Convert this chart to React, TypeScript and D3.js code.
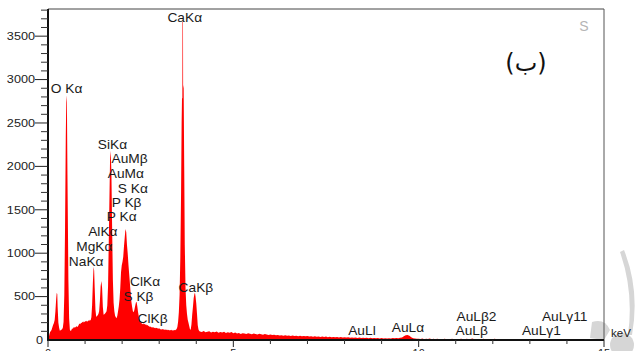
import React from "react";
import * as d3 from "d3";

// ---- data -------------------------------------------------------------
// Low-energy part of the EDS spectrum: [keV, counts]
const lowSpectrum: [number, number][] = [
  [0.0, 0], [0.02, 30], [0.04, 70], [0.06, 95], [0.08, 105], [0.1, 120], [0.12, 150],
  [0.14, 175], [0.16, 195], [0.18, 230], [0.2, 330], [0.22, 470], [0.235, 540], [0.25, 530],
  [0.26, 380], [0.28, 200], [0.3, 140], [0.32, 108], [0.34, 112], [0.36, 118], [0.38, 125],
  [0.4, 140], [0.42, 210], [0.44, 520], [0.46, 1300], [0.48, 2350], [0.495, 2820], [0.51, 2740],
  [0.525, 1900], [0.55, 700], [0.57, 250], [0.59, 118], [0.61, 105], [0.63, 112], [0.65, 135],
  [0.67, 128], [0.69, 148], [0.71, 140], [0.73, 152], [0.75, 145], [0.77, 160], [0.79, 150],
  [0.81, 158], [0.83, 175], [0.85, 190], [0.87, 182], [0.89, 200], [0.91, 195], [0.93, 210],
  [0.95, 202], [0.97, 215], [0.99, 205], [1.01, 220], [1.03, 212], [1.05, 222], [1.07, 210],
  [1.09, 228], [1.11, 218], [1.13, 232], [1.15, 225], [1.17, 262], [1.19, 400], [1.21, 650],
  [1.23, 845], [1.245, 800], [1.26, 600], [1.28, 350], [1.3, 268], [1.32, 275], [1.34, 285],
  [1.36, 300], [1.38, 330], [1.4, 450], [1.42, 620], [1.44, 680], [1.46, 600], [1.48, 380],
  [1.5, 290], [1.52, 298], [1.54, 305], [1.56, 318], [1.58, 330], [1.6, 400], [1.62, 620],
  [1.64, 1150], [1.66, 1700], [1.675, 2100], [1.69, 2180], [1.71, 1950], [1.73, 1300],
  [1.75, 700], [1.77, 430], [1.79, 330], [1.81, 280], [1.83, 262], [1.85, 250], [1.87, 280],
  [1.89, 330], [1.91, 390], [1.93, 470], [1.95, 600], [1.97, 780], [1.99, 860], [2.01, 900],
  [2.03, 960], [2.05, 1080], [2.07, 1180], [2.09, 1280], [2.11, 1245], [2.13, 1100],
  [2.15, 1000], [2.17, 870], [2.19, 760], [2.21, 650], [2.23, 540], [2.25, 440], [2.27, 380],
  [2.29, 330], [2.31, 320], [2.33, 345], [2.35, 390], [2.37, 430], [2.39, 440], [2.41, 385],
  [2.43, 320], [2.45, 270], [2.47, 235], [2.49, 215], [2.51, 198], [2.53, 190], [2.55, 182],
  [2.57, 192], [2.59, 178], [2.61, 186], [2.63, 175], [2.65, 180], [2.67, 168], [2.69, 172],
  [2.71, 160], [2.73, 158], [2.75, 150], [2.77, 156], [2.79, 145], [2.81, 150], [2.83, 140],
  [2.85, 146], [2.87, 138], [2.89, 142], [2.91, 136], [2.93, 140], [2.95, 132], [2.97, 138],
  [2.99, 128], [3.01, 134], [3.03, 122], [3.05, 128], [3.07, 118], [3.09, 126], [3.11, 120],
  [3.13, 124], [3.15, 114], [3.17, 122], [3.19, 116], [3.21, 120], [3.23, 112], [3.25, 118],
  [3.27, 110], [3.29, 116], [3.31, 112], [3.33, 118], [3.35, 108], [3.37, 115], [3.39, 110],
  [3.41, 116], [3.43, 112], [3.45, 118], [3.47, 128], [3.49, 150], [3.51, 210], [3.53, 320],
  [3.55, 520], [3.57, 950], [3.59, 1700], [3.605, 2500], [3.615, 2780], [3.625, 2790],
  [3.628, 3664], [3.642, 3664], [3.645, 2938], [3.66, 2900], [3.675, 2000], [3.69, 1100],
  [3.71, 600], [3.73, 400], [3.75, 300],
  [3.77, 232], [3.79, 200], [3.81, 160], [3.83, 125], [3.85, 118], [3.87, 180], [3.89, 290],
  [3.91, 380], [3.93, 480], [3.95, 530], [3.965, 545], [3.98, 500], [4.0, 420], [4.02, 300],
  [4.04, 170], [4.06, 120], [4.08, 104],
];

// High-energy tail: channels of 0.05 keV starting at 4.10 keV
const tailStartKeV = 4.1;
const tailStepKeV = 0.05;
const tailCounts: number[] = [
  98, 92, 105, 88, 96, 101, 85, 94, 90, 99, 83, 91, 87, 95, 80, 89, 84, 92,
  78, 86, 74, 82, 70, 79, 75, 68, 77, 72, 66, 74, 69, 63, 71, 65, 60, 68, 62, 58,
  64, 57, 61, 54, 59, 52, 56, 50, 55, 48, 53, 47, 51, 45, 50, 44, 49, 43, 47, 42,
  46, 40, 44, 38, 43, 37, 41, 36, 40, 35, 39, 33, 37, 32, 36, 31, 35, 30, 34, 29,
  33, 28, 31, 27, 30, 25, 29, 24, 28, 23, 27, 22, 26, 21, 25, 20, 24, 19, 23, 18,
  22, 17, 21, 16, 20, 18, 22, 19, 24, 21, 26, 30, 42, 55, 58, 48, 32, 20, 16, 14,
  15, 12, 18, 10, 14, 11, 16, 9, 13, 10, 15, 8, 12, 10, 14, 9, 11, 8, 13, 10,
  12, 9, 11, 14, 10, 8, 13, 9, 11, 16, 10, 12, 9, 11, 8, 14, 10, 9, 12, 8,
  10, 13, 8, 11, 9, 12, 7, 10, 6, 3, 2, 0, 1, 0, 2, 0, 0, 1, 0, 0,
  0, 0, 6, 0, 0, 1, 0, 0, 0, 0, 0, 0, 0, 0, 0, 0, 0, 0, 0, 0,
  0, 0, 0, 0, 0, 0, 0, 0, 0, 0, 0, 0, 0, 0, 0, 0, 0, 0, 0, 0, 0,
];

// Peak labels: text, energy (keV) and count level of the label baseline
const labelTexts = [
  "CaKα", "O Kα", "SiKα", "AuMβ", "AuMα", "S Kα", "P Kβ", "P Kα", "AlKα", "MgKα", "NaKα",
  "ClKα", "S Kβ", "ClKβ", "CaKβ", "AuLl", "AuLα", "AuLβ2", "AuLβ", "AuLγ1", "AuLγ11",
];
const labelKeV = [
  3.69, 0.5, 1.74, 2.2, 2.1, 2.29, 2.12, 1.99, 1.48, 1.25, 1.03,
  2.62, 2.44, 2.82, 3.99, 8.47, 9.71, 11.56, 11.43, 13.31, 13.94,
];
const labelCounts = [
  3663, 2845, 2200, 2039, 1866, 1693, 1532, 1371, 1198, 1025, 852,
  622, 449, 196, 553, 58, 92, 219, 58, 58, 219,
];

const yMajorTicks = [0, 500, 1000, 1500, 2000, 2500, 3000, 3500];
const xMajorTicks = [0, 5, 10, 15];
const panelLabel = "(ب)";

// ---- layout -----------------------------------------------------------
const W = 635;
const H = 351;
const left = 48;
const right = 604;
const top = 9;
const bottom = 340;
const yMax = 3813;
const font = "'Liberation Sans', Arial, sans-serif";

export default function App() {
  const x = d3.scaleLinear().domain([0, 15]).range([left, right]);
  const y = d3.scaleLinear().domain([0, yMax]).range([bottom, top]);

  const tail: [number, number][] = tailCounts.map((c, i) => [tailStartKeV + i * tailStepKeV, c]);
  const spectrum = [...lowSpectrum, ...tail];

  const area = d3
    .area<[number, number]>()
    .x((d) => x(d[0]))
    .y0(y(0))
    .y1((d) => y(d[1]))
    .curve(d3.curveLinear);

  const yMinor = d3.range(100, 3801, 100).filter((v) => v % 500 !== 0);
  const xMinor = d3.range(1, 15, 1).filter((v) => v % 5 !== 0);

  return (
    <svg
      width={W}
      height={H}
      style={{ position: "absolute", left: 0, top: 0, background: "#fff" }}
      fontFamily={font}
    >
      {/* faint watermark fragments */}
      <g fill="#d6d6d6">
        <circle cx={622} cy={345} r={12} />
        <path d={`M592,322 Q605,318 610,330 L604,340 L590,338 Z`} />
        <path d={`M624,250 Q640,290 632,335 L628,335 Q634,292 620,252 Z`} />
        <text x={584} y={31} fontSize={14} fill="#b5b5b5" textAnchor="middle">
          S
        </text>
      </g>

      {/* spectrum */}
      <path d={area(spectrum) ?? ""} fill="#ff0000" />

      {/* frame */}
      <line x1={left} x2={right} y1={top} y2={top} stroke="#444" strokeWidth={1} />
      <line x1={right} x2={right} y1={top} y2={bottom} stroke="#555" strokeWidth={1} />
      <line x1={left} x2={left} y1={top} y2={bottom + 1} stroke="#111" strokeWidth={2} />
      <line x1={left - 1} x2={right} y1={bottom} y2={bottom} stroke="#111" strokeWidth={2} />

      {/* y ticks */}
      {yMajorTicks.map((v) => {
        const tx = v === 0 ? left - 5 : left - 13;
        return (
          <g key={"ym" + v}>
            {v > 0 && (
              <line x1={left - 13} x2={left} y1={y(v)} y2={y(v)} stroke="#222" strokeWidth={1} />
            )}
            <text
              x={0}
              y={0}
              dy="0.35em"
              textAnchor="end"
              fontSize={11}
              fill="#222"
              transform={`translate(${tx},${y(v)}) scale(1.15,1)`}
            >
              {v}
            </text>
          </g>
        );
      })}
      {yMinor.map((v) => (
        <line key={"yn" + v} x1={left - 7} x2={left} y1={y(v)} y2={y(v)} stroke="#333" strokeWidth={1} />
      ))}

      {/* x ticks */}
      {xMajorTicks.map((v) => (
        <g key={"xm" + v}>
          <line x1={x(v)} x2={x(v)} y1={bottom} y2={bottom + 7} stroke="#222" strokeWidth={1} />
          <text x={x(v)} y={357} textAnchor="middle" fontSize={11} fill="#222">
            {v}
          </text>
        </g>
      ))}
      {xMinor.map((v) => (
        <line key={"xn" + v} x1={x(v)} x2={x(v)} y1={bottom} y2={bottom + 4} stroke="#333" strokeWidth={1} />
      ))}

      {/* peak labels */}
      {labelTexts.map((t, i) => (
        <text
          key={"l" + i}
          x={0}
          y={0}
          textAnchor="middle"
          fontSize={12.5}
          fill="#1a1a1a"
          transform={`translate(${x(labelKeV[i])},${y(labelCounts[i])}) scale(1.1,1)`}
        >
          {t}
        </text>
      ))}

      <text x={611} y={337} fontSize={11.5} fill="#222">
        keV
      </text>

      <text
        x={526}
        y={71}
        textAnchor="middle"
        fontSize={24}
        fill="#111"
        fontFamily="'DejaVu Sans', 'Noto Sans', sans-serif"
      >
        {panelLabel}
      </text>
    </svg>
  );
}
